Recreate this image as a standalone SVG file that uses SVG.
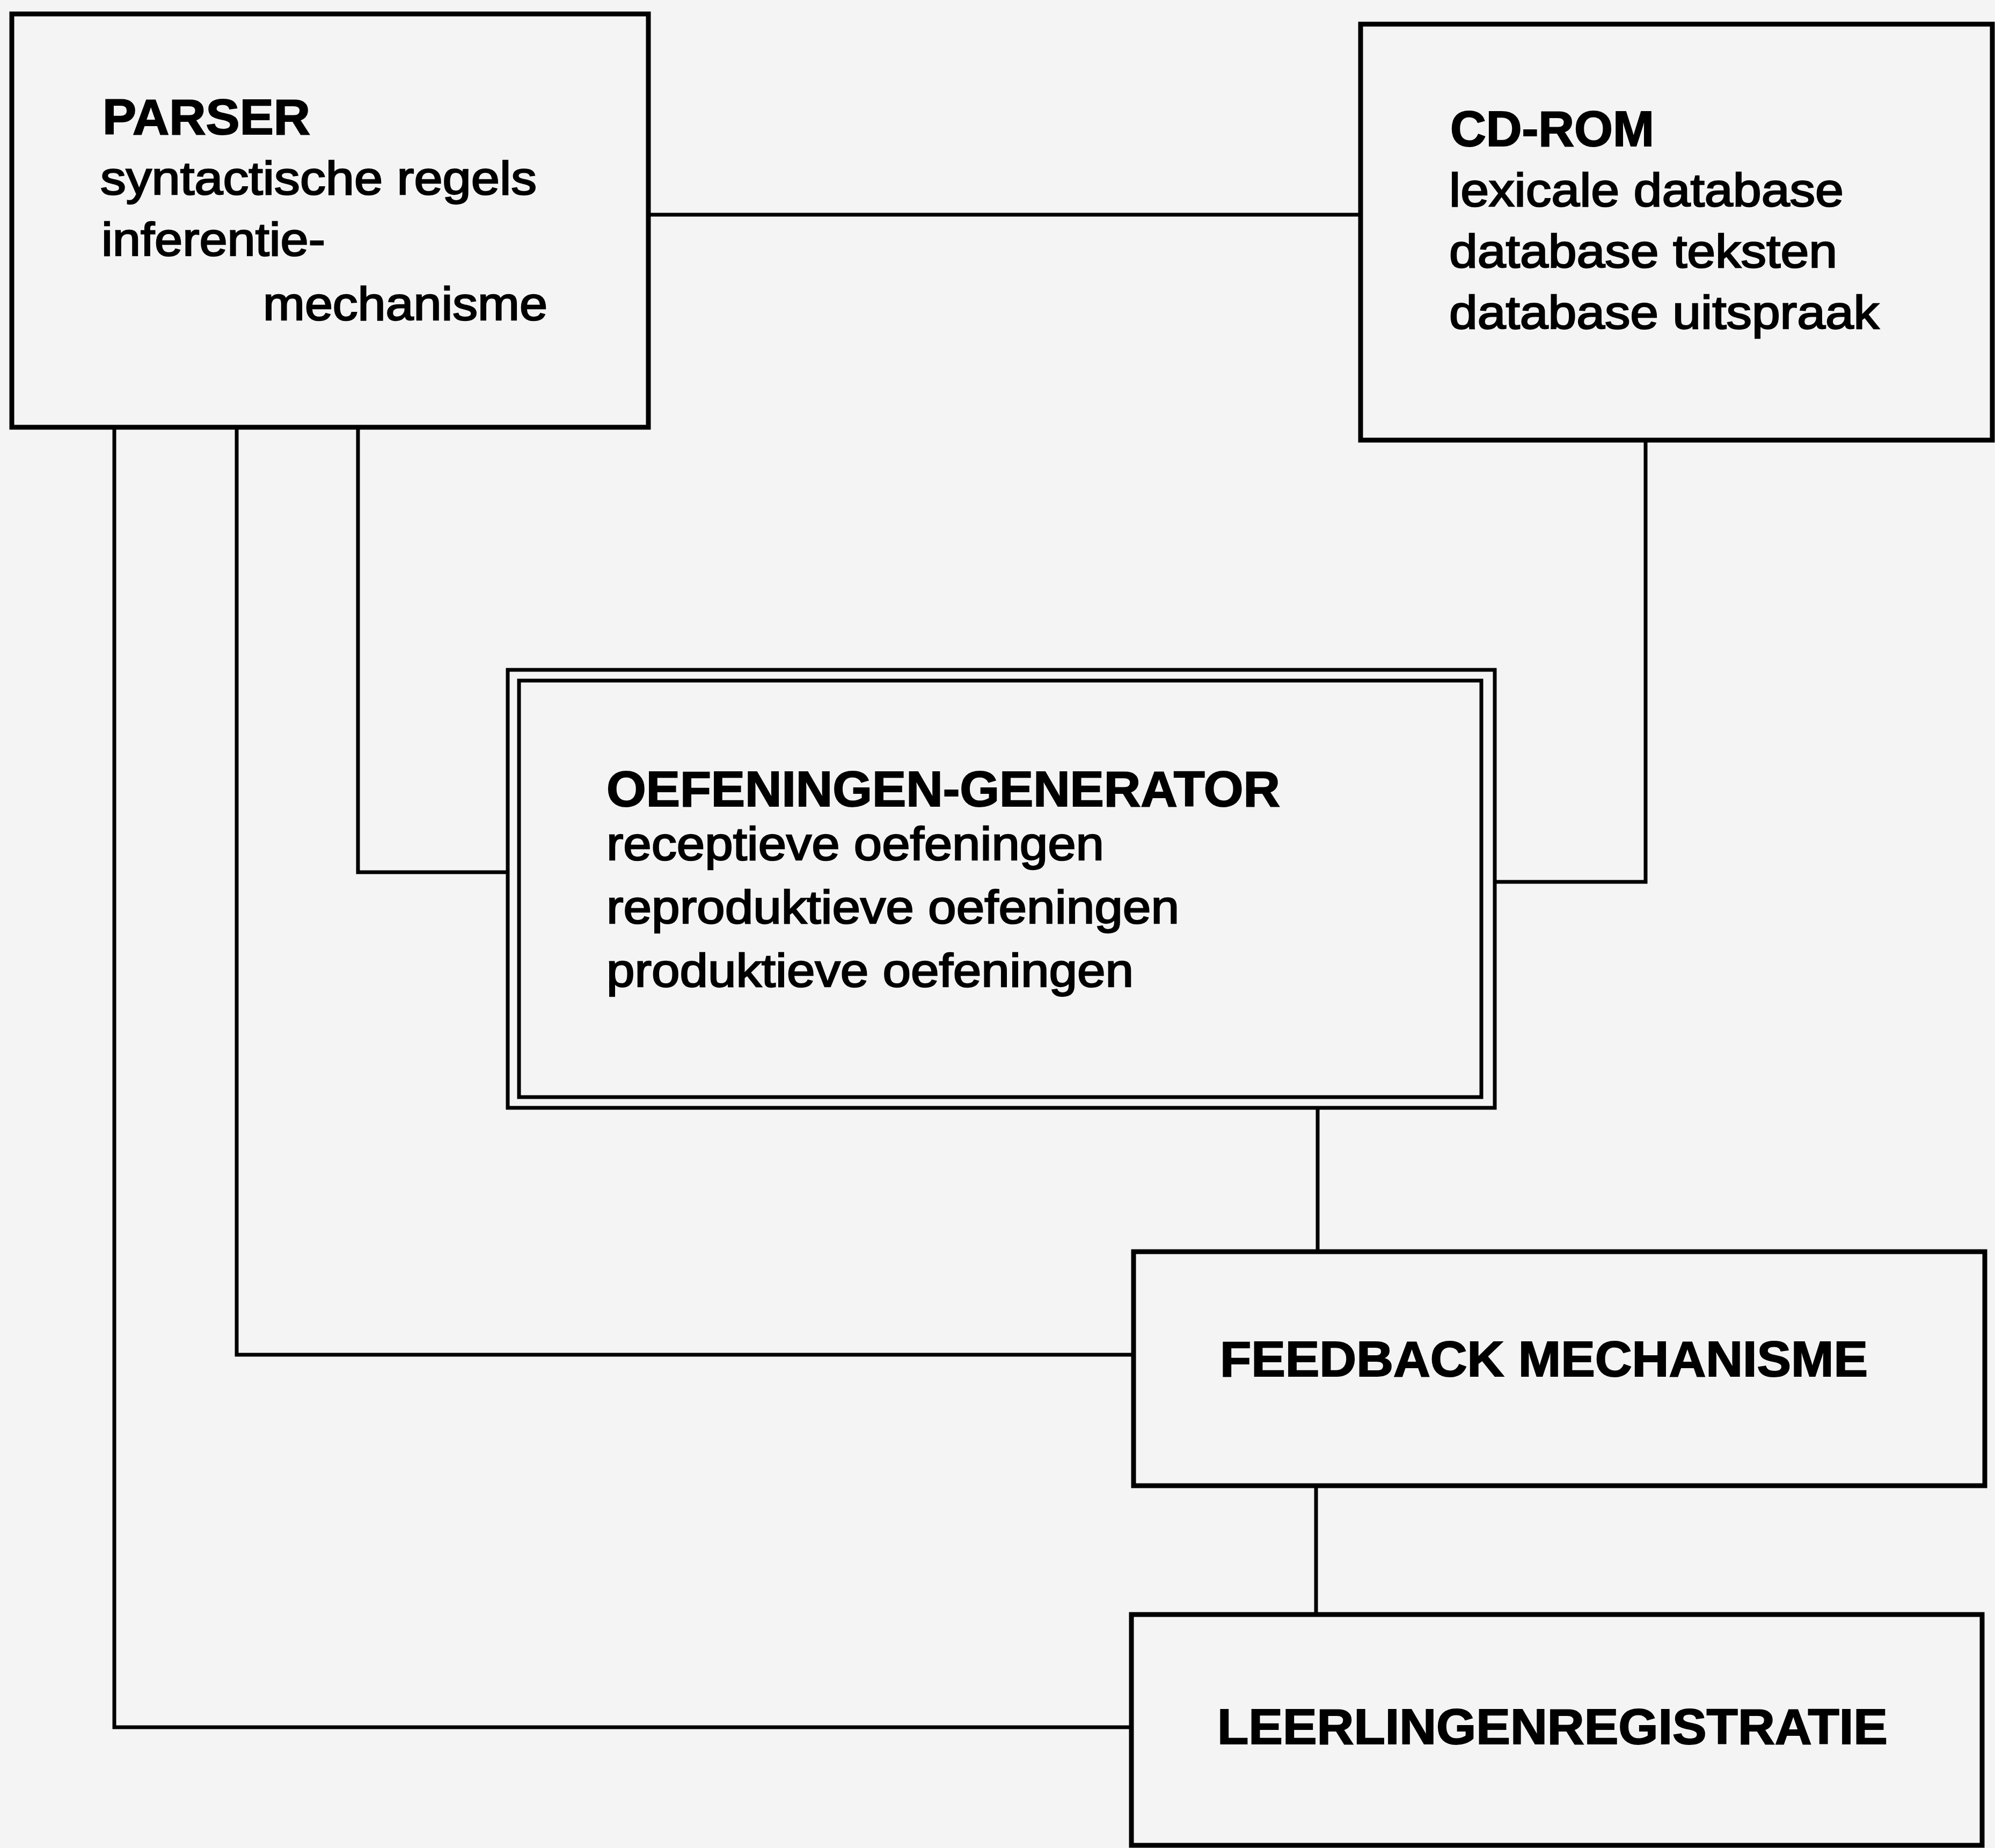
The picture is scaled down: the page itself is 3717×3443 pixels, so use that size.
<svg xmlns="http://www.w3.org/2000/svg" width="3717" height="3443" viewBox="0 0 3717 3443">
<style>
.box{fill:none;stroke:#000;stroke-width:9}
.con{fill:none;stroke:#000;stroke-width:7}
.h{font-family:"Liberation Sans",Arial,sans-serif;font-weight:bold;font-size:92px;fill:#000;stroke:#000;stroke-width:2}
.t{font-family:"Liberation Sans",Arial,sans-serif;font-size:88px;fill:#000;stroke:#000;stroke-width:2.5}
</style>
<rect x="0" y="0" width="3717" height="3443" fill="#f4f4f4"/>
<g id="connectors">
<polyline class="con" points="1208,400 2535,400"/>
<polyline class="con" points="213,796 213,3218 2108,3218"/>
<polyline class="con" points="441,796 441,2524 2112,2524"/>
<polyline class="con" points="667,796 667,1625 945,1625"/>
<polyline class="con" points="3066,820 3066,1643 2785,1643"/>
<polyline class="con" points="2455,2064 2455,2332"/>
<polyline class="con" points="2452,2768 2452,3008"/>
</g>
<g id="parser">
<rect class="box" x="22" y="26" width="1186" height="770"/>
<text class="h" x="191" y="250" textLength="387" lengthAdjust="spacingAndGlyphs">PARSER</text>
<text class="t" x="187" y="362" textLength="813" lengthAdjust="spacingAndGlyphs">syntactische regels</text>
<text class="t" x="189" y="476" textLength="417" lengthAdjust="spacingAndGlyphs">inferentie-</text>
<text class="t" x="490" y="596" textLength="530" lengthAdjust="spacingAndGlyphs">mechanisme</text>
</g>
<g id="cdrom">
<rect class="box" x="2535" y="45" width="1177" height="775"/>
<text class="h" x="2702" y="272" textLength="380" lengthAdjust="spacingAndGlyphs">CD-ROM</text>
<text class="t" x="2700" y="384" textLength="735" lengthAdjust="spacingAndGlyphs">lexicale database</text>
<text class="t" x="2700" y="498" textLength="723" lengthAdjust="spacingAndGlyphs">database teksten</text>
<text class="t" x="2700" y="612" textLength="801" lengthAdjust="spacingAndGlyphs">database uitspraak</text>
</g>
<g id="oefeningen-generator">
<rect class="box" x="946" y="1248" width="1839" height="816" style="stroke-width:7"/>
<rect class="box" x="967" y="1268" width="1793" height="776" style="stroke-width:7"/>
<text class="h" x="1130" y="1502" textLength="1255" lengthAdjust="spacingAndGlyphs">OEFENINGEN-GENERATOR</text>
<text class="t" x="1130" y="1602" textLength="927" lengthAdjust="spacingAndGlyphs">receptieve oefeningen</text>
<text class="t" x="1130" y="1720" textLength="1067" lengthAdjust="spacingAndGlyphs">reproduktieve oefeningen</text>
<text class="t" x="1130" y="1838" textLength="982" lengthAdjust="spacingAndGlyphs">produktieve oefeningen</text>
</g>
<g id="feedback">
<rect class="box" x="2112" y="2332" width="1586" height="436"/>
<text class="h" x="2273" y="2564" textLength="1207" lengthAdjust="spacingAndGlyphs">FEEDBACK MECHANISME</text>
</g>
<g id="leerlingenregistratie">
<rect class="box" x="2108" y="3008" width="1585" height="430"/>
<text class="h" x="2268" y="3249" textLength="1249" lengthAdjust="spacingAndGlyphs">LEERLINGENREGISTRATIE</text>
</g>
</svg>
